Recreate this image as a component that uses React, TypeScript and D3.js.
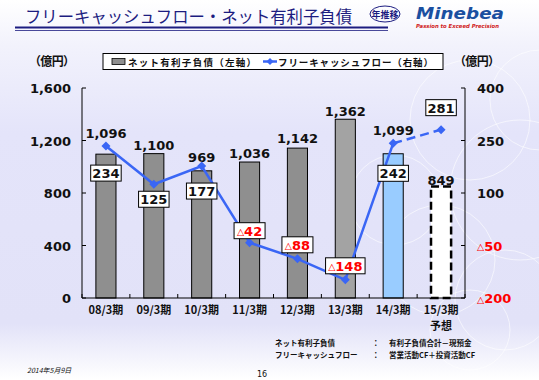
import React from "react";
import * as d3 from "d3";

const categories = ["08/3期", "09/3期", "10/3期", "11/3期", "12/3期", "13/3期", "14/3期", "15/3期"];
const netDebt = [1096, 1100, 969, 1036, 1142, 1362, 1099, 849];
const freeCashFlow = [234, 125, 177, -42, -88, -148, 242, 281];
const leftTicks = [0, 400, 800, 1200, 1600];
const rightTicks = [-200, -50, 100, 250, 400];
// label layout (pixel offsets relative to the marks)
const barLabelDy = [-21, -9, -14, -9, -10, -8, -24, -7];
const lineLabelDy = [27, 15, 25, -12, -14, -14, 30, -22];

const W = 539, H = 380;
const M = { left: 82, right: 465, top: 88, bottom: 298 };
const JP = "'Noto Sans CJK JP', sans-serif";
const NUM = "'DejaVu Sans', Verdana, sans-serif";

const fmt = d3.format(",");

function Signed({ v, x, y, anchor, size }: { v: number; x: number; y: number; anchor?: string; size: number }) {
  return (
    <text x={x} y={y} textAnchor={anchor as any} fontFamily={NUM} fontSize={size} fontWeight="bold" fill={v < 0 ? "#ff0000" : "#111"}>
      {v < 0 ? <tspan fontSize={size * 0.72} dy={-0.5}>△</tspan> : null}
      {v < 0 ? <tspan dy={0.5}>{Math.abs(v)}</tspan> : String(v)}
    </text>
  );
}

export default function App() {
  const x = d3.scaleBand<string>().domain(categories).range([M.left, M.right]).paddingInner(0.58).paddingOuter(0.29);
  const xb = d3.scaleBand<string>().domain(categories).range([M.left, M.right]);
  const yL = d3.scaleLinear().domain([0, 1600]).range([M.bottom, M.top]);
  const yR = d3.scaleLinear().domain([-200, 400]).range([M.bottom, M.top]);
  const cx = (c: string) => (x(c) as number) + x.bandwidth() / 2;

  const pts = categories.map((c, i) => [cx(c), yR(freeCashFlow[i])] as [number, number]);
  const line = d3.line();
  const solid = line(pts.slice(0, 7)) as string;
  const dashed = line(pts.slice(6, 8)) as string;

  const barFill = (i: number) => (i < 5 ? "#8f8f8f" : i === 5 ? "#a3a3a3" : i === 6 ? "#99ccff" : "#ffffff");

  const circles = [
    [470, 120, 60], [520, 190, 70], [440, 260, 55], [505, 300, 50], [395, 200, 45], [540, 100, 50], [470, 330, 40],
  ];

  return (
    <svg width={W} height={H} style={{ position: "absolute", left: 0, top: 0 }}>
      <defs>
        <linearGradient id="bg" x1="0" y1="0" x2="0" y2="1">
          <stop offset="0" stopColor="#ffffff" />
          <stop offset="0.12" stopColor="#f2f2fc" />
          <stop offset="0.35" stopColor="#e4e4fa" />
          <stop offset="0.85" stopColor="#e2e2f8" />
          <stop offset="1" stopColor="#ffffff" />
        </linearGradient>
      </defs>
      <rect width={W} height={H} fill="url(#bg)" />
      {circles.map(([a, b, r], i) => (
        <circle key={i} cx={a} cy={b} r={r} fill="none" stroke="#ffffff" strokeOpacity={0.6} strokeWidth={1} />
      ))}

      {/* title */}
      <text x={25} y={23} fontFamily={JP} fontSize={16.5} fill="#1c1c80" textLength={327} lengthAdjust="spacingAndGlyphs">フリーキャッシュフロー・ネット有利子負債</text>
      <line x1={15} x2={388} y1={27.5} y2={27.5} stroke="#1c1c80" strokeWidth={2} />
      <line x1={15} x2={388} y1={30.5} y2={30.5} stroke="#1c1c80" strokeWidth={0.8} />
      <ellipse cx={385} cy={14} rx={15} ry={8} fill="none" stroke="#1c1c80" strokeWidth={1} />
      <text x={385} y={17.5} textAnchor="middle" fontFamily={JP} fontSize={9} fontWeight="bold" fill="#1c1c80">年推移</text>
      <text x={416} y={19} fontFamily={NUM} fontSize={16} fontWeight="bold" fontStyle="italic" fill="#1a4fa0" textLength={88} lengthAdjust="spacingAndGlyphs">Minebea</text>
      <text x={416} y={27.5} fontFamily={NUM} fontSize={5.5} fontWeight="bold" fontStyle="italic" fill="#d02020" textLength={83} lengthAdjust="spacingAndGlyphs">Passion to Exceed Precision</text>

      {/* units */}
      <text x={29} y={66} fontFamily={JP} fontSize={12} fontWeight="bold" fill="#111" textLength={46}>（億円）</text>
      <text x={454} y={66} fontFamily={JP} fontSize={12} fontWeight="bold" fill="#111" textLength={46}>（億円）</text>

      {/* legend */}
      <rect x={103} y={53.5} width={340} height={16} fill="#ffffff" stroke="#000" strokeWidth={1} />
      <rect x={112} y={58.5} width={13} height={6} fill="#8f8f8f" stroke="#000" strokeWidth={0.8} />
      <text x={128} y={66} fontFamily={JP} fontSize={9.5} fontWeight="bold" fill="#111" textLength={128}>ネット有利子負債（左軸）</text>
      <line x1={263} x2={277} y1={61.5} y2={61.5} stroke="#3a66f5" strokeWidth={2.5} />
      <path d="M270,58 L273.5,61.5 L270,65 L266.5,61.5 Z" fill="#3a66f5" />
      <text x={278} y={66} fontFamily={JP} fontSize={9.5} fontWeight="bold" fill="#111" textLength={155}>フリーキャッシュフロー（右軸）</text>

      {/* bars */}
      {categories.map((c, i) => (
        <rect
          key={c}
          x={x(c)}
          y={yL(netDebt[i])}
          width={x.bandwidth()}
          height={yL(0) - yL(netDebt[i])}
          fill={barFill(i)}
          stroke="#000"
          strokeWidth={i === 7 ? 2.5 : 1}
          strokeDasharray={i === 7 ? "8,4" : undefined}
        />
      ))}

      {/* axes */}
      <line x1={M.left} x2={M.left} y1={M.top} y2={M.bottom} stroke="#000" />
      <line x1={M.right} x2={M.right} y1={M.top} y2={M.bottom} stroke="#000" />
      <line x1={M.left} x2={M.right} y1={M.bottom} y2={M.bottom} stroke="#000" />
      {leftTicks.map((t) => (
        <g key={"l" + t}>
          <line x1={M.left} x2={M.left + 4} y1={yL(t)} y2={yL(t)} stroke="#000" />
          <text x={71} y={yL(t) + 5} textAnchor="end" fontFamily={NUM} fontSize={13} fontWeight="bold" fill="#111">{fmt(t)}</text>
        </g>
      ))}
      {rightTicks.map((t) => (
        <g key={"r" + t}>
          <line x1={M.right - 4} x2={M.right} y1={yR(t)} y2={yR(t)} stroke="#000" />
          <Signed v={t} x={477} y={yR(t) + 5} size={13} />
        </g>
      ))}
      {categories.concat(["end"]).map((c, i) => {
        const xx = M.left + i * xb.step();
        return <line key={"t" + i} x1={xx} x2={xx} y1={M.bottom} y2={M.bottom - 4} stroke="#000" />;
      })}
      {categories.map((c) => (
        <text key={"x" + c} x={cx(c)} y={314} textAnchor="middle" fontFamily={JP} fontSize={11} fontWeight="bold" fill="#111">{c}</text>
      ))}
      <text x={cx(categories[7])} y={330} textAnchor="middle" fontFamily={JP} fontSize={11} fontWeight="bold" fill="#111">予想</text>

      {/* bar labels */}
      {categories.map((c, i) => (
        <text key={"bl" + c} x={cx(c)} y={yL(netDebt[i]) + barLabelDy[i] + 5} textAnchor="middle" fontFamily={NUM} fontSize={13} fontWeight="bold" fill="#111">{fmt(netDebt[i])}</text>
      ))}

      {/* line */}
      <path d={solid} fill="none" stroke="#3a66f5" strokeWidth={2.5} />
      <path d={dashed} fill="none" stroke="#3a66f5" strokeWidth={2.5} strokeDasharray="9,5" />
      {pts.map(([px, py], i) => (
        <path key={"m" + i} d={`M${px},${py - 4.5} L${px + 4.5},${py} L${px},${py + 4.5} L${px - 4.5},${py} Z`} fill="#3a66f5" />
      ))}

      {/* line labels */}
      {pts.map(([px, py], i) => {
        const v = freeCashFlow[i];
        const w = (v < 0 ? 9 : 0) + String(Math.abs(v)).length * 8.5 + 5;
        const cy = py + lineLabelDy[i];
        return (
          <g key={"ll" + i}>
            <rect x={px - w / 2} y={cy - 8} width={w} height={16} fill="#fff" stroke="#000" strokeWidth={1} />
            <Signed v={v} x={px} y={cy + 5} anchor="middle" size={13} />
          </g>
        );
      })}

      {/* notes */}
      <text x={275} y={346} fontFamily={JP} fontSize={7.5} fontWeight="bold" fill="#111">ネット有利子負債</text>
      <text x={275} y={358} fontFamily={JP} fontSize={7.5} fontWeight="bold" fill="#111">フリーキャッシュフロー</text>
      <text x={372} y={346} fontFamily={JP} fontSize={7.5} fontWeight="bold" fill="#111">：</text>
      <text x={372} y={358} fontFamily={JP} fontSize={7.5} fontWeight="bold" fill="#111">：</text>
      <text x={389} y={346} fontFamily={JP} fontSize={7.5} fontWeight="bold" fill="#111">有利子負債合計－現預金</text>
      <text x={389} y={358} fontFamily={JP} fontSize={7.5} fontWeight="bold" fill="#111">営業活動CF＋投資活動CF</text>
      <text x={27} y={373} fontFamily={JP} fontSize={7} fontStyle="italic" fill="#111">2014年5月9日</text>
      <text x={262} y={377} textAnchor="middle" fontFamily={NUM} fontSize={8} fill="#111">16</text>
    </svg>
  );
}
